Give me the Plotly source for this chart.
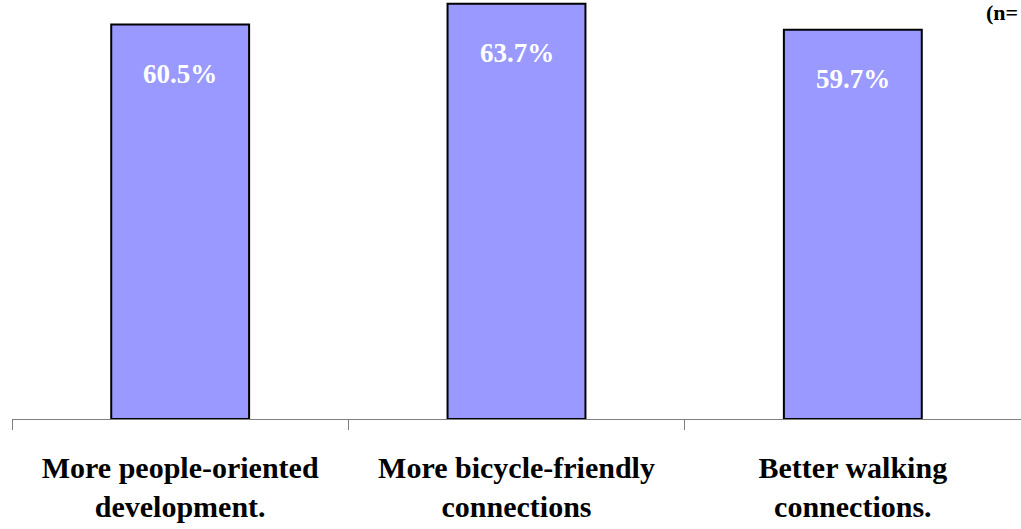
import plotly.graph_objects as go

categories = ["More people-oriented<br>development.", "More bicycle-friendly<br>connections", "Better walking<br>connections."]
values = [60.5, 63.7, 59.7]
value_labels = ["60.5%", "63.7%", "59.7%"]
note_text = "(n="

SERIF = "Liberation Serif, Times New Roman, Times, serif"

fig = go.Figure()
fig.add_trace(go.Bar(
    x=categories, y=values, width=0.41,
    marker=dict(color="#9999FF", line=dict(color="black", width=2)),
    hoverinfo="skip",
))
for c, v, t in zip(categories, values, value_labels):
    fig.add_annotation(x=c, y=v, text=f"<b>{t}</b>", showarrow=False, yanchor="middle",
                       yshift=-49, font=dict(family=SERIF, size=27, color="white"))
fig.add_annotation(xref="paper", yref="paper", x=1.0, y=1.0, xanchor="left", yanchor="top",
                   xshift=-37, yshift=2, text=f"<b>{note_text}</b>", showarrow=False,
                   font=dict(family=SERIF, size=22, color="black"))

fig.update_layout(
    width=1021, height=529,
    margin=dict(l=12, r=0, t=0, b=110),
    plot_bgcolor="white", paper_bgcolor="white",
    showlegend=False,
    font=dict(family=SERIF, size=24, color="black"),
)
fig.update_xaxes(
    type="category", tickson="boundaries", ticks="outside", ticklen=10, tickcolor="#808080",
    showline=True, linecolor="#808080", linewidth=1, showgrid=False,
    tickvals=categories, ticktext=[f"<b>{c}</b>" for c in categories],
    tickfont=dict(family=SERIF, size=30, color="black"),
    ticklabelstandoff=22,
    range=[-0.5, 2.5],
)
fig.update_yaxes(range=[0, 64.26], visible=False, showgrid=False, zeroline=False)
fig.write_html("out.html", config={"displayModeBar": False},
               post_script="document.body.style.margin='0';document.body.style.padding='0';")
